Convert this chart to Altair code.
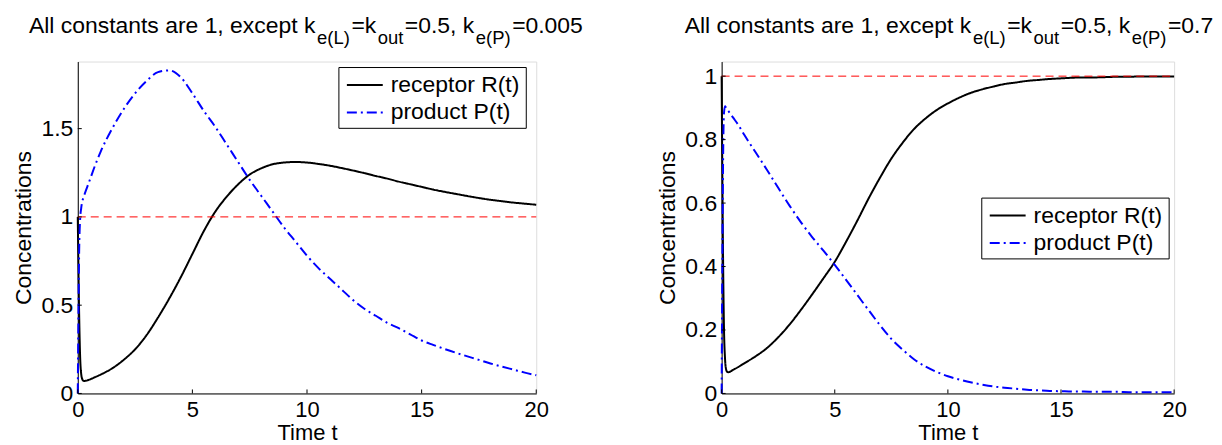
import altair as alt
import pandas as pd

FONT = "Liberation Sans"

# ---------------- data ----------------
T = [0, 0.03, 0.06, 0.1, 0.15, 0.2, 0.25, 0.3, 0.5, 0.75,
     1.0, 1.5, 2.0, 2.5, 3.0, 3.5, 4.0, 4.5, 5.0, 5.5,
     6.0, 6.5, 7.0, 7.5, 8.0, 8.5, 9.0, 9.5, 10.0, 10.5,
     11.0, 11.5, 12.0, 12.5, 13.0, 13.5, 14.0, 14.5, 15.0, 15.5,
     16.0, 16.5, 17.0, 17.5, 18.0, 18.5, 19.0, 19.5, 20.0]

R_LEFT = [1.0, 0.70, 0.45, 0.22, 0.11, 0.08, 0.072, 0.071, 0.078, 0.092,
          0.107, 0.142, 0.19, 0.25, 0.33, 0.43, 0.54, 0.66, 0.79, 0.92,
          1.03, 1.115, 1.185, 1.24, 1.275, 1.298, 1.308, 1.311, 1.308, 1.30,
          1.29, 1.277, 1.263, 1.248, 1.232, 1.217, 1.20, 1.185, 1.17, 1.155,
          1.142, 1.13, 1.118, 1.107, 1.097, 1.089, 1.081, 1.075, 1.069]

P_LEFT = [0.0, 0.45, 0.80, 0.98, 1.05, 1.09, 1.11, 1.13, 1.20, 1.29,
          1.37, 1.50, 1.61, 1.70, 1.77, 1.82, 1.83, 1.79, 1.70, 1.60,
          1.51, 1.41, 1.31, 1.21, 1.12, 1.03, 0.94, 0.86, 0.78, 0.71,
          0.65, 0.59, 0.53, 0.48, 0.44, 0.40, 0.37, 0.335, 0.30, 0.275,
          0.252, 0.23, 0.21, 0.19, 0.17, 0.152, 0.135, 0.118, 0.103]

R_RIGHT = [1.0, 0.70, 0.45, 0.22, 0.11, 0.075, 0.068, 0.067, 0.074, 0.084,
           0.095, 0.117, 0.143, 0.177, 0.217, 0.263, 0.312, 0.363, 0.415, 0.478,
           0.545, 0.615, 0.68, 0.74, 0.79, 0.833, 0.866, 0.893, 0.914, 0.932,
           0.947, 0.958, 0.967, 0.975, 0.98, 0.985, 0.988, 0.991, 0.993, 0.995,
           0.996, 0.996, 0.997, 0.998, 0.998, 0.999, 0.999, 0.999, 0.999]

P_RIGHT = [0.0, 0.40, 0.70, 0.88, 0.905, 0.90, 0.895, 0.89, 0.87, 0.845,
           0.815, 0.76, 0.705, 0.648, 0.592, 0.54, 0.493, 0.45, 0.405, 0.358,
           0.31, 0.262, 0.215, 0.172, 0.138, 0.108, 0.085, 0.068, 0.054, 0.044,
           0.035, 0.028, 0.022, 0.018, 0.015, 0.012, 0.010, 0.008, 0.007, 0.006,
           0.006, 0.005, 0.005, 0.005, 0.004, 0.004, 0.004, 0.004, 0.004]

SERIES = ["receptor R(t)", "product P(t)"]
SERIES_COLORS = ["black", "blue"]
SERIES_DASH = [[1, 0], [10, 4, 2, 4]]
REF_T = [0, 20]
REF_C = [1, 1]

X_TICKS = [0, 5, 10, 15, 20]
Y_TICKS_LEFT = [0, 0.5, 1, 1.5]
Y_TICKS_RIGHT = [0, 0.2, 0.4, 0.6, 0.8, 1]
Y_DOMAIN_LEFT = [0, 1.88]
Y_DOMAIN_RIGHT = [0, 1.046]

TITLE_LEFT = [("All constants are 1, except k", False), ("e(L)", True), ("=k", False),
              ("out", True), ("=0.5, k", False), ("e(P)", True), ("=0.005", False)]
TITLE_RIGHT = [("All constants are 1, except k", False), ("e(L)", True), ("=k", False),
               ("out", True), ("=0.5, k", False), ("e(P)", True), ("=0.7", False)]

# ---------------- layout ----------------
W_L, H_L = 460, 333
W_R, H_R = 454, 333
MAIN_FS, SUB_FS, GAP = 23, 18.5, 1.5
TICK_FS, AXTITLE_FS, LEG_FS = 23, 23, 23
XTICK_FS, XTITLE_FS = 22, 22

AW = {"A": 667, "l": 222, "c": 500, "o": 556, "n": 556, "s": 500, "t": 278, "a": 556,
      "r": 333, "e": 556, "1": 556, ",": 278, " ": 278, "x": 500, "p": 556, "k": 500,
      "(": 333, ")": 333, "L": 556, "=": 584, "u": 556, "0": 556, ".": 278, "5": 556,
      "P": 667, "7": 556}


def tw(s, fs):
    return sum(AW[ch] for ch in s) * fs / 1000.0


ONE = pd.DataFrame({"k": [0]})


def title_layers(parts, x0, y_main, y_sub):
    out = []
    x = x0
    for txt, is_sub in parts:
        fs = SUB_FS if is_sub else MAIN_FS
        if is_sub:
            x += GAP
        out.append(
            alt.Chart(ONE).mark_text(text=txt, fontSize=fs, font=FONT, color="black",
                                     align="left", baseline="alphabetic")
            .encode(x=alt.value(x), y=alt.value(y_sub if is_sub else y_main))
        )
        x += tw(txt, fs)
        if is_sub:
            x += GAP
    return out


def legend_layers(lx, ly):
    out = [alt.Chart(ONE).mark_rect(fill="white", stroke="black", strokeWidth=1).encode(
        x=alt.value(lx), x2=alt.value(lx + 188), y=alt.value(ly), y2=alt.value(ly + 61))]
    for i, name in enumerate(SERIES):
        yy = ly + 17.5 + 27.5 * i
        out.append(alt.Chart(ONE).mark_rule(color=SERIES_COLORS[i], strokeWidth=2,
                                            strokeDash=SERIES_DASH[i]).encode(
            x=alt.value(lx + 8), x2=alt.value(lx + 44), y=alt.value(yy)))
        out.append(alt.Chart(ONE).mark_text(text=name, fontSize=LEG_FS, font=FONT,
                                            color="black", align="left",
                                            baseline="middle").encode(
            x=alt.value(lx + 52), y=alt.value(yy)))
    return out


def panel(R, P, ydom, yticks, W, H, legx, legy, title_parts, title_x0, anchor):
    df = pd.DataFrame({
        "t": T + T,
        "c": R + P,
        "s": [SERIES[0]] * len(T) + [SERIES[1]] * len(T),
    })
    xs = alt.Scale(domain=[0, 20], nice=False, zero=False)
    ys = alt.Scale(domain=ydom, nice=False, zero=False)
    xaxis = alt.Axis(values=X_TICKS, title="Time t", grid=False, ticks=False, tickSize=0,
                     domainColor="black", domainWidth=1, labelFontSize=XTICK_FS,
                     labelFont=FONT, format="~g",
                     labelColor="black", labelBaseline="alphabetic", labelPadding=23,
                     labelFlush=False, labelOverlap=False,
                     titleFontSize=XTITLE_FS, titleFont=FONT, titleFontWeight="normal",
                     titleColor="black", titleBaseline="alphabetic", titleY=46.5,
                     titleX=W / 2, titleAlign="center")
    yaxis = alt.Axis(values=yticks, title="Concentrations", grid=False, ticks=False,
                     tickSize=0, domainColor="black", domainWidth=1, labelFontSize=TICK_FS,
                     labelFont=FONT, labelColor="black", labelPadding=5, format="~g",
                     labelOverlap=False, labelFlush=False,
                     titleFontSize=AXTITLE_FS, titleFont=FONT, titleFontWeight="normal",
                     titleColor="black", titleAngle=270, titleAlign="center",
                     titleBaseline="alphabetic", titleX=-47, titleY=H / 2)
    lines = alt.Chart(df).mark_line(strokeWidth=2, interpolate="monotone").encode(
        x=alt.X("t:Q", scale=xs, axis=xaxis),
        y=alt.Y("c:Q", scale=ys, axis=yaxis),
        color=alt.Color("s:N", scale=alt.Scale(domain=SERIES, range=SERIES_COLORS),
                        legend=None),
        strokeDash=alt.StrokeDash("s:N", scale=alt.Scale(domain=SERIES, range=SERIES_DASH),
                                  legend=None),
    )
    ref = alt.Chart(pd.DataFrame({"t": REF_T, "c": REF_C})).mark_line(
        color="red", strokeWidth=1, strokeDash=[8, 5]).encode(
        x=alt.X("t:Q", scale=xs), y=alt.Y("c:Q", scale=ys))
    xt = alt.Chart(pd.DataFrame({"t": X_TICKS})).mark_rule(color="black", strokeWidth=1).encode(
        x=alt.X("t:Q", scale=xs), y=alt.value(H), y2=alt.value(H - 4))
    yt = alt.Chart(pd.DataFrame({"c": yticks})).mark_rule(color="black", strokeWidth=1).encode(
        y=alt.Y("c:Q", scale=ys), x=alt.value(0), x2=alt.value(4))
    layers = [lines, ref, xt, yt] + legend_layers(legx, legy) + \
        title_layers(title_parts, title_x0, -29, -17.5)
    if anchor:
        layers.append(alt.Chart(ONE).mark_rule(opacity=0, strokeOpacity=0).encode(
            x=alt.value(-69), x2=alt.value(-69), y=alt.value(-52), y2=alt.value(-40)))
    return alt.layer(*layers).properties(width=W, height=H)


left = panel(R_LEFT, P_LEFT, Y_DOMAIN_LEFT, Y_TICKS_LEFT, W_L, H_L, 262, 6,
             TITLE_LEFT, -49, True)
right = panel(R_RIGHT, P_RIGHT, Y_DOMAIN_RIGHT, Y_TICKS_RIGHT, W_R, H_R, 261, 137,
              TITLE_RIGHT, -37, False)

chart = (
    alt.hconcat(left, right, spacing=186, bounds="flush")
    .resolve_scale(color="independent", strokeDash="independent")
    .properties(padding=0)
    .configure_view(stroke=None)
    .configure(font=FONT)
)

chart.save("out.html", embed_options={"renderer": "svg", "actions": False})
